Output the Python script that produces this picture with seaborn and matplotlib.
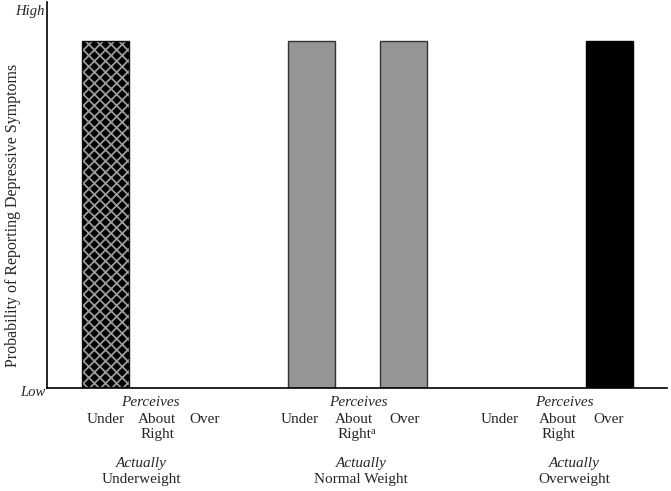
import numpy as np
import pandas as pd
import matplotlib
matplotlib.use("Agg")
import matplotlib.pyplot as plt
import matplotlib.transforms as mtransforms
from matplotlib.patches import Rectangle
import seaborn as sns

# ---- data ----
actual_groups = ["Underweight", "Normal Weight", "Overweight"]
perceives = ["Under", "About\nRight", "Over"]
# relative probability (0 = low / reference, 0.9 = high)
underweight_vals = [0.9, 0.0, 0.0]
normal_vals = [0.9, 0.0, 0.9]
overweight_vals = [0.0, 0.0, 0.9]

# ---- layout (axis units ~ pixels) ----
bar_x = [105.5, 157, 205, 311, 354, 403, 500, 558, 609]
label_x = [105.5, 157, 205, 300, 354, 405, 500, 558, 609]
perceive_title_x = [150, 358, 564]
actual_title_x = [141, 361, 574]
fills = ["cross", None, None, "gray", None, "gray", None, None, "black"]

rows = []
for g, vals in zip(actual_groups, [underweight_vals, normal_vals, overweight_vals]):
    for p, v in zip(perceives, vals):
        rows.append({"actual": g, "perceives": p, "value": v})
df = pd.DataFrame(rows)
df["pos"] = bar_x

sns.set_theme(style="white")
plt.rcParams["font.family"] = ["Liberation Serif", "DejaVu Serif"]
plt.rcParams["hatch.linewidth"] = 1.3

W, H = 671, 491
fig = plt.figure(figsize=(W / 100, H / 100), dpi=100)
ax = fig.add_axes([47 / W, 1 - 388 / H, (667 - 47) / W, (388 - 2) / H])

width = 47 / np.min(np.diff(bar_x))
sns.barplot(data=df, x="pos", y="value", native_scale=True, width=width,
            color="#959595", edgecolor="#333333", linewidth=1.0, ax=ax,
            errorbar=None)

for patch, f in zip(sorted(ax.patches, key=lambda p: p.get_x()), fills):
    if f is None:
        patch.set_visible(False)
    elif f == "gray":
        patch.set_facecolor("#959595")
        patch.set_edgecolor("#333333")
    elif f == "black":
        patch.set_facecolor("#000000")
        patch.set_edgecolor("#000000")
    elif f == "cross":
        patch.set_facecolor("#000000")
        patch.set_edgecolor("#9a9a9a")
        patch.set_hatch("xxx")
        patch.set_linewidth(0)
        ax.add_patch(Rectangle((patch.get_x(), patch.get_y()), patch.get_width(),
                               patch.get_height(), fill=False, edgecolor="#111111",
                               linewidth=1.0, zorder=patch.get_zorder() + 0.1))

ax.set_xlim(47, 667)
ax.set_ylim(0, 1.0)
ax.set_xticks([])
ax.set_yticks([])
ax.set_xlabel("")
ax.set_ylabel("")
for s in ["top", "right"]:
    ax.spines[s].set_visible(False)
for s in ["left", "bottom"]:
    ax.spines[s].set_color("black")
    ax.spines[s].set_linewidth(1.2)

def fy(px):
    return 1 - px / H

# Low / High
fig.text(45 / W, fy(12), "High", ha="right", va="center", style="italic", fontsize=10.5)
fig.text(45 / W, fy(393), "Low", ha="right", va="center", style="italic", fontsize=10.5)

# y label
fig.text(13 / W, fy(215), "Probability of Reporting Depressive Symptoms",
         rotation=90, ha="center", va="center", fontsize=11.5)

trans = mtransforms.blended_transform_factory(ax.transData, fig.transFigure)
fs = 11
for i, gx in enumerate(perceive_title_x):
    ax.text(gx, fy(405.5), "Perceives", transform=trans, ha="center", va="baseline",
            style="italic", fontsize=fs)
for i, lx in enumerate(label_x):
    lab = perceives[i % 3]
    first = lab.split("\n")[0]
    ax.text(lx, fy(423), first, transform=trans, ha="center", va="baseline", fontsize=fs)
    if "\n" in lab:
        second = lab.split("\n")[1]
        t = ax.text(lx, fy(438), second, transform=trans, ha="center", va="baseline",
                    fontsize=fs)
        if i == 4:
            # superscript "a" placed just after "Right"
            ax.text(lx + 16.5, fy(433.5), "a", transform=trans, ha="left",
                    va="baseline", fontsize=7.5)
for gx, g in zip(actual_title_x, actual_groups):
    ax.text(gx, fy(466.5), "Actually", transform=trans, ha="center", va="baseline",
            style="italic", fontsize=fs)
    ax.text(gx, fy(482.5), g, transform=trans, ha="center", va="baseline", fontsize=fs)

fig.savefig("out.png", dpi=100)
